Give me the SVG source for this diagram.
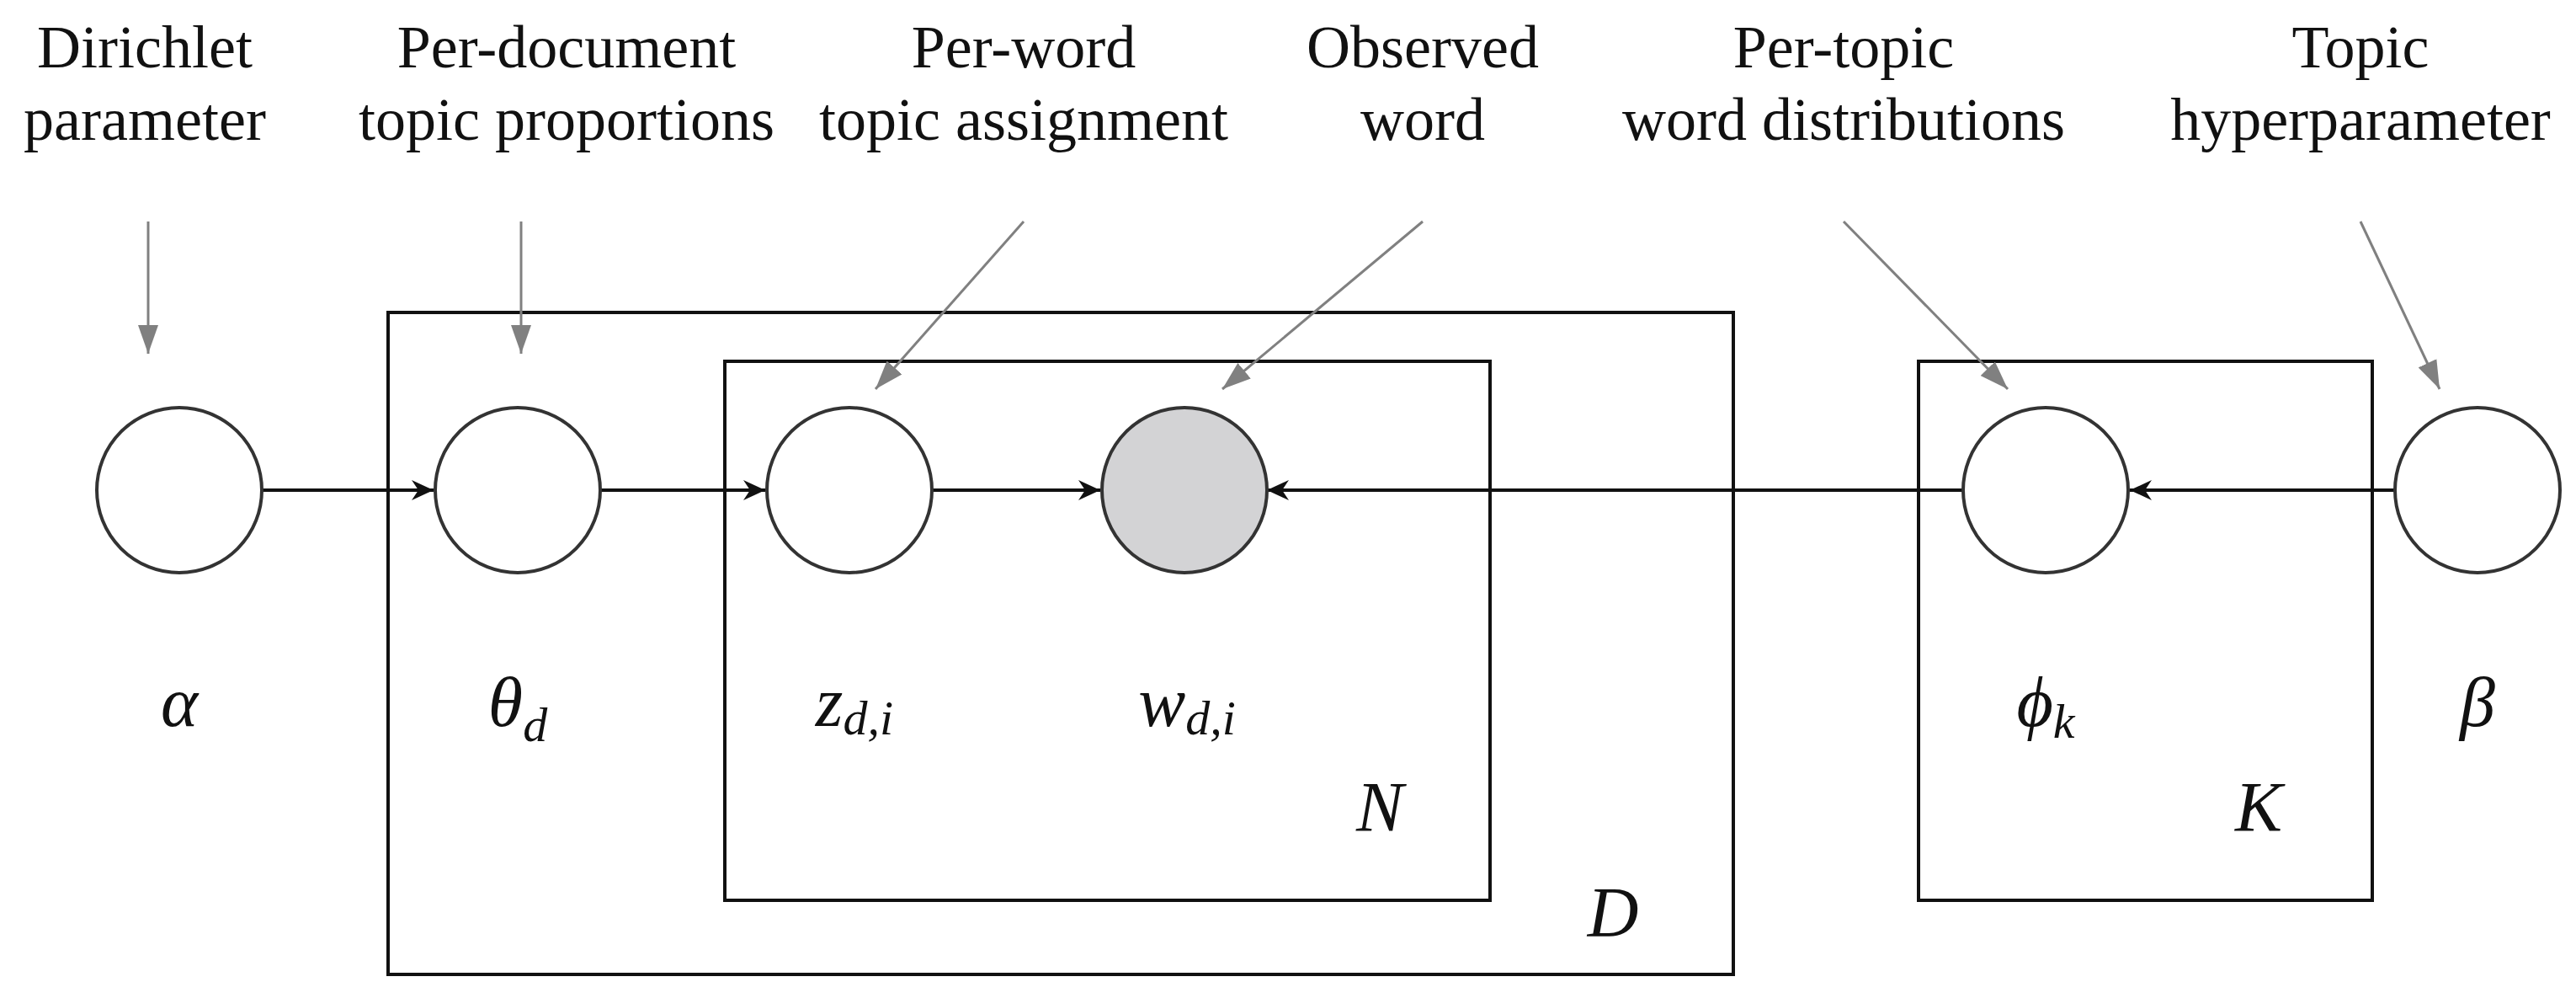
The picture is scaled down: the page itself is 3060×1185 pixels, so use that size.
<svg xmlns="http://www.w3.org/2000/svg" width="3060" height="1185" viewBox="0 0 3060 1185">
<style>
.lbl{font-family:"Liberation Serif","DejaVu Serif",serif;font-size:72px;fill:#111;text-anchor:middle}
.math{font-family:"Liberation Serif","DejaVu Serif",serif;font-style:italic;font-size:84px;fill:#111;text-anchor:middle}
.sub{font-size:58px}
.node{fill:#fff;stroke:#333;stroke-width:4}
.obs{fill:#d3d3d5;stroke:#333;stroke-width:4}
.plate{fill:none;stroke:#111;stroke-width:4}
.edge{stroke:#111;stroke-width:4;fill:none;marker-end:url(#ah)}
.ann{stroke:#808080;stroke-width:3;fill:none;marker-end:url(#gh)}
</style>
<defs>
<marker id="ah" markerWidth="26" markerHeight="24" refX="26" refY="12" orient="auto" markerUnits="userSpaceOnUse"><path d="M0,0 L26,12 L0,24 L8,12 Z" fill="#111"/></marker>
<marker id="gh" markerWidth="34" markerHeight="24" refX="34" refY="12" orient="auto" markerUnits="userSpaceOnUse"><path d="M0,0 L34,12 L0,24 Z" fill="#808080"/></marker>
</defs>
<rect width="3060" height="1185" fill="#fff"/>
<g id="plates">
<rect id="plate-D" class="plate" x="461" y="371" width="1598" height="786"/>
<rect id="plate-N" class="plate" x="861" y="429" width="909" height="640"/>
<rect id="plate-K" class="plate" x="2279" y="429" width="539" height="640"/>
<text class="math" x="1639" y="987">N</text>
<text class="math" x="1916" y="1112">D</text>
<text class="math" x="2683" y="987">K</text>
</g>
<g id="connectors">
<line class="edge" x1="311" y1="582" x2="515" y2="582"/>
<line class="edge" x1="713" y1="582" x2="909" y2="582"/>
<line class="edge" x1="1107" y1="582" x2="1307" y2="582"/>
<line class="edge" x1="2332" y1="582" x2="1505" y2="582"/>
<line class="edge" x1="2845" y1="582" x2="2530" y2="582"/>
<line class="ann" x1="176" y1="263" x2="176" y2="420"/>
<line class="ann" x1="619" y1="263" x2="619" y2="420"/>
<line class="ann" x1="1216" y1="263" x2="1040" y2="462"/>
<line class="ann" x1="1690" y1="263" x2="1452" y2="462"/>
<line class="ann" x1="2190" y1="263" x2="2385" y2="462"/>
<line class="ann" x1="2804" y1="263" x2="2898" y2="462"/>
</g>
<g id="alpha"><circle class="node" cx="213" cy="582" r="98"/><text class="math" x="213" y="862">α</text><text class="lbl" x="172" y="80">Dirichlet</text><text class="lbl" x="172" y="166">parameter</text></g>
<g id="theta"><circle class="node" cx="615" cy="582" r="98"/><text class="math" x="615" y="862">θ<tspan class="sub" dy="18">d</tspan></text><text class="lbl" x="673" y="80">Per-document</text><text class="lbl" x="673" y="166">topic proportions</text></g>
<g id="z"><circle class="node" cx="1009" cy="582" r="98"/><text class="math" x="1015" y="862">z<tspan class="sub" dy="10">d,i</tspan></text><text class="lbl" x="1216" y="80">Per-word</text><text class="lbl" x="1216" y="166">topic assignment</text></g>
<g id="w"><circle class="obs" cx="1407" cy="582" r="98"/><text class="math" x="1410" y="862">w<tspan class="sub" dy="10">d,i</tspan></text><text class="lbl" x="1690" y="80">Observed</text><text class="lbl" x="1690" y="166">word</text></g>
<g id="phi"><circle class="node" cx="2430" cy="582" r="98"/><text class="math" x="2430" y="862">ϕ<tspan class="sub" dy="14">k</tspan></text><text class="lbl" x="2190" y="80">Per-topic</text><text class="lbl" x="2190" y="166">word distributions</text></g>
<g id="beta"><circle class="node" cx="2943" cy="582" r="98"/><text class="math" x="2943" y="862">β</text><text class="lbl" x="2804" y="80">Topic</text><text class="lbl" x="2804" y="166">hyperparameter</text></g>
</svg>
